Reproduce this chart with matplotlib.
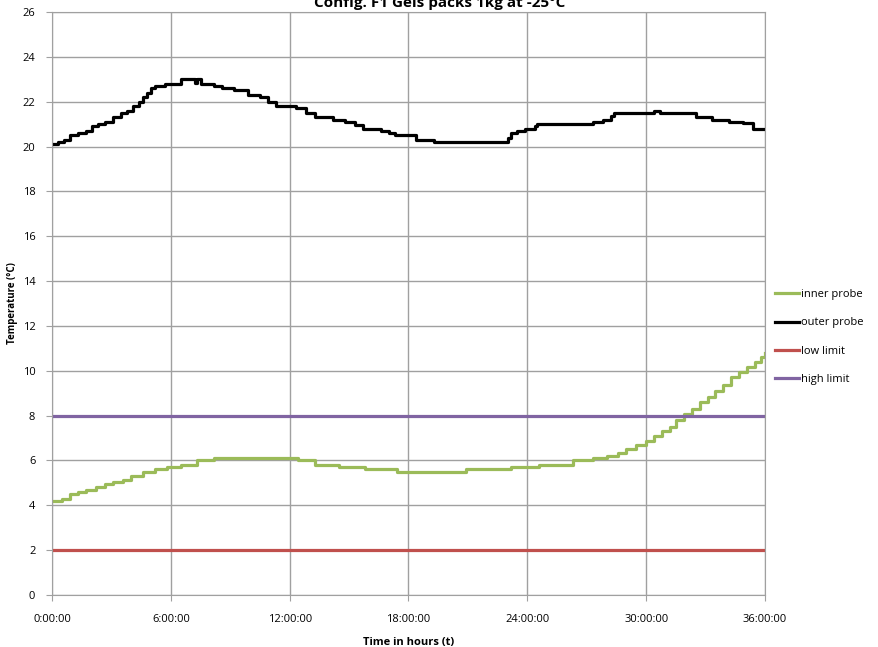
import matplotlib.pyplot as plt
from matplotlib.ticker import MultipleLocator

plt.rcParams['font.family'] = ['Open Sans', 'DejaVu Sans']

# outer probe (hours, temperature)
outer_h = [0, 0.3, 0.6, 0.9, 1.3, 1.7, 2.0, 2.3, 2.7, 3.1, 3.5, 3.8, 4.1, 4.4, 4.6, 4.8,
           5.0, 5.2, 5.7, 6.5, 7.2, 7.3, 7.5, 8.2, 8.6, 9.2, 9.9, 10.5, 10.9, 11.3, 12.3,
           12.8, 13.3, 14.2, 14.8, 15.3, 15.7, 16.6, 17.0, 17.3, 18.4, 19.3, 23.0, 23.2,
           23.5, 23.9, 24.4, 24.5, 27.3, 27.8, 28.2, 28.4, 30.4, 30.7, 32.5, 33.3, 34.2,
           34.9, 35.4, 36]
outer_t = [20.1, 20.2, 20.3, 20.5, 20.6, 20.7, 20.9, 21.0, 21.1, 21.3, 21.5, 21.6, 21.8,
           22.0, 22.2, 22.4, 22.6, 22.7, 22.8, 23.0, 22.85, 23.0, 22.8, 22.7, 22.6, 22.5,
           22.3, 22.2, 22.0, 21.8, 21.7, 21.5, 21.3, 21.2, 21.1, 20.95, 20.8, 20.7, 20.6,
           20.5, 20.3, 20.2, 20.4, 20.6, 20.7, 20.8, 20.9, 21.0, 21.1, 21.2, 21.35, 21.5,
           21.6, 21.5, 21.3, 21.2, 21.1, 21.05, 20.8, 20.8]

# inner probe
inner_h = [0, 0.5, 0.9, 1.3, 1.7, 2.2, 2.7, 3.1, 3.6, 4.0, 4.6, 5.2, 5.8, 6.5, 7.3, 8.2,
           12.4, 13.3, 14.5, 15.8, 17.4, 20.9, 23.2, 24.6, 26.3, 27.3, 28.0, 28.6, 29.0,
           29.5, 30.0, 30.4, 30.8, 31.2, 31.5, 31.9, 32.3, 32.7, 33.1, 33.5, 33.9, 34.3,
           34.7, 35.1, 35.5, 35.8, 36]
inner_t = [4.2, 4.3, 4.5, 4.6, 4.7, 4.8, 4.95, 5.05, 5.15, 5.3, 5.5, 5.6, 5.7, 5.8, 6.0,
           6.1, 6.0, 5.8, 5.7, 5.6, 5.5, 5.6, 5.7, 5.8, 6.0, 6.1, 6.2, 6.35, 6.5, 6.7,
           6.85, 7.1, 7.3, 7.5, 7.8, 8.05, 8.3, 8.6, 8.85, 9.1, 9.35, 9.7, 9.95, 10.15,
           10.4, 10.6, 10.8]

low_limit = 2
high_limit = 8
xticks = [0, 6, 12, 18, 24, 30, 36]
xlabels = ['0:00:00', '6:00:00', '12:00:00', '18:00:00', '24:00:00', '30:00:00', '36:00:00']

fig = plt.figure(figsize=(8.79, 6.47), dpi=100)
ax = fig.add_axes([52 / 879, 1 - 595 / 647, 713 / 879, 583 / 647])

ax.plot(inner_h, inner_t, color='#9BBB59', lw=2.3, drawstyle='steps-post', label='inner probe')
ax.plot(outer_h, outer_t, color='black', lw=2.3, drawstyle='steps-post', label='outer probe')
ax.plot([0, 36], [low_limit, low_limit], color='#C0504D', lw=2.3, label='low limit')
ax.plot([0, 36], [high_limit, high_limit], color='#8064A2', lw=2.3, label='high limit')

ax.set_xlim(0, 36)
ax.set_ylim(0, 26)
ax.yaxis.set_major_locator(MultipleLocator(2))
ax.set_xticks(xticks)
ax.set_xticklabels(xlabels)
ax.grid(True, color='#a0a0a0', lw=1)
ax.set_axisbelow(True)
for s in ax.spines.values():
    s.set_color('#a0a0a0')
ax.tick_params(colors='#a0a0a0', labelcolor='black', labelsize=8, length=4)
ax.tick_params(axis='x', pad=10)
ax.tick_params(axis='y', pad=8)

ax.set_xlabel('Time in hours (t)', fontsize=8, fontweight='bold', labelpad=8)
ax.set_ylabel('Temperature (°C)', fontsize=7, fontweight='bold', labelpad=6)
ax.yaxis.set_label_coords(-34 / 713, 0.5)

fig.text(0.5, 1 - 3 / 647, 'Config. F1 Gels packs 1kg at -25°C', ha='center', va='center',
         fontsize=11, fontweight='bold')

ax.legend(loc='center left', bbox_to_anchor=(1.0, (595 - 337) / 583), frameon=False,
          fontsize=8, handlelength=2.2, handletextpad=0.1, labelspacing=1.55)

fig.savefig('out.png', dpi=100)
